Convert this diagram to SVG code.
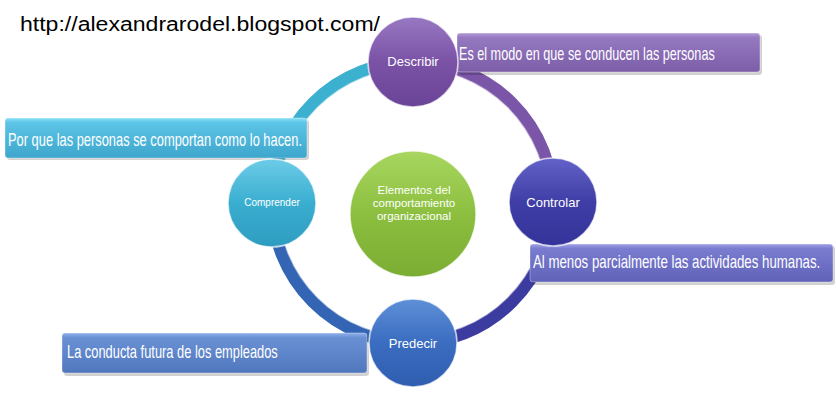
<svg xmlns="http://www.w3.org/2000/svg" width="836" height="416" viewBox="0 0 836 416">
<defs>
<linearGradient id="gPur" x1="0" y1="0" x2="0" y2="1"><stop offset="0" stop-color="#9878c2"/><stop offset="0.5" stop-color="#7a52a6"/><stop offset="1" stop-color="#6a4496"/></linearGradient>
<linearGradient id="gInd" x1="0" y1="0" x2="0" y2="1"><stop offset="0" stop-color="#6262c8"/><stop offset="0.5" stop-color="#3f3ea6"/><stop offset="1" stop-color="#34339a"/></linearGradient>
<linearGradient id="gBlu" x1="0" y1="0" x2="0" y2="1"><stop offset="0" stop-color="#5e90d8"/><stop offset="0.5" stop-color="#3a6cc0"/><stop offset="1" stop-color="#2f5eb0"/></linearGradient>
<linearGradient id="gCya" x1="0" y1="0" x2="0" y2="1"><stop offset="0" stop-color="#6ccce8"/><stop offset="0.5" stop-color="#3aaed0"/><stop offset="1" stop-color="#2e9cc0"/></linearGradient>
<linearGradient id="gGrn" x1="0" y1="0" x2="0" y2="1"><stop offset="0" stop-color="#a8d660"/><stop offset="0.5" stop-color="#8cbf3f"/><stop offset="1" stop-color="#7aad32"/></linearGradient>
<linearGradient id="bPur" x1="0" y1="0" x2="0" y2="1"><stop offset="0" stop-color="#b59ad8"/><stop offset="0.12" stop-color="#9478c0"/><stop offset="1" stop-color="#7c5ea8"/></linearGradient>
<linearGradient id="bCya" x1="0" y1="0" x2="0" y2="1"><stop offset="0" stop-color="#8ae0f6"/><stop offset="0.12" stop-color="#5cc4e6"/><stop offset="1" stop-color="#3ea6cc"/></linearGradient>
<linearGradient id="bInd" x1="0" y1="0" x2="0" y2="1"><stop offset="0" stop-color="#a0a2e6"/><stop offset="0.12" stop-color="#7a7cd0"/><stop offset="1" stop-color="#6062b8"/></linearGradient>
<linearGradient id="bBlu" x1="0" y1="0" x2="0" y2="1"><stop offset="0" stop-color="#8eb0ea"/><stop offset="0.12" stop-color="#6a90d4"/><stop offset="1" stop-color="#5077bd"/></linearGradient>
</defs>
<style>
.ring{fill:none;stroke-width:12.5}
.hl{fill:none;stroke:#ffffff;stroke-opacity:0.55;stroke-width:1.2}
.node{stroke:#ffffff;stroke-opacity:0.7;stroke-width:1.5}
.box{stroke:#ffffff;stroke-opacity:0.35;stroke-width:1}
.shadow{fill:#000000;fill-opacity:0.18}
.lbl{font-family:"Liberation Sans",Arial,sans-serif;fill:#ffffff;text-anchor:middle}
.ct{font-family:"Liberation Sans Narrow","Liberation Sans",Arial,sans-serif;fill:#ffffff;font-size:18px}
.url{font-family:"Liberation Sans",Arial,sans-serif;fill:#000000;font-size:20px}
</style>
<rect width="836" height="416" fill="#ffffff"/>
<text class="url" x="20" y="31" textLength="360" lengthAdjust="spacingAndGlyphs">http://alexandrarodel.blogspot.com/</text>

<g id="connectors">
<path class="ring" stroke="#3bb0cf" d="M272,202.5 A140.5,140.5 0 0 1 412.5,62"/>
<path class="ring" stroke="#7a55a8" d="M412.5,62 A140.5,140.5 0 0 1 553,202.5"/>
<path class="ring" stroke="#3c3ca0" d="M553,202.5 A140.5,140.5 0 0 1 412.5,343"/>
<path class="ring" stroke="#3465b5" d="M412.5,343 A140.5,140.5 0 0 1 272,202.5"/>
<path class="hl" d="M278,202.5 A134.5,134.5 0 0 1 412.5,68 A134.5,134.5 0 0 1 547,202.5 A134.5,134.5 0 0 1 412.5,337 A134.5,134.5 0 0 1 278,202.5"/>
</g>

<g id="callout-describir">
<rect class="shadow" x="459" y="35" width="303" height="40" rx="3"/>
<rect class="box" x="457" y="33" width="303" height="39" rx="3" fill="url(#bPur)"/>
<text class="ct" transform="translate(459,60) scale(0.75,1)" textLength="341" lengthAdjust="spacingAndGlyphs">Es el modo en que se conducen las personas</text>
</g>
<g id="callout-comprender">
<rect class="shadow" x="7" y="120" width="302" height="40" rx="3"/>
<rect class="box" x="5" y="118" width="302" height="40" rx="3" fill="url(#bCya)"/>
<text class="ct" transform="translate(8,146) scale(0.75,1)" textLength="392" lengthAdjust="spacingAndGlyphs">Por que las personas se comportan como lo hacen.</text>
</g>
<g id="callout-controlar">
<rect class="shadow" x="532" y="246" width="303" height="39" rx="3"/>
<rect class="box" x="530" y="244" width="303" height="38" rx="3" fill="url(#bInd)"/>
<text class="ct" transform="translate(533,268) scale(0.75,1)" textLength="383" lengthAdjust="spacingAndGlyphs">Al menos parcialmente las actividades humanas.</text>
</g>
<g id="callout-predecir">
<rect class="shadow" x="64" y="335" width="305" height="41" rx="3"/>
<rect class="box" x="62" y="333" width="305" height="40" rx="3" fill="url(#bBlu)"/>
<text class="ct" transform="translate(67,358) scale(0.75,1)" textLength="281" lengthAdjust="spacingAndGlyphs">La conducta futura de los empleados</text>
</g>

<g id="node-center">
<circle class="node" cx="413" cy="214" r="63" fill="url(#gGrn)"/>
<text class="lbl" x="414" y="194" font-size="11.5">Elementos del</text>
<text class="lbl" x="414" y="207" font-size="11.5">comportamiento</text>
<text class="lbl" x="414" y="220" font-size="11.5">organizacional</text>
</g>
<g id="node-describir">
<circle class="node" cx="413" cy="62" r="45" fill="url(#gPur)"/>
<text class="lbl" x="413" y="66" font-size="13">Describir</text>
</g>
<g id="node-controlar">
<circle class="node" cx="553" cy="202" r="44" fill="url(#gInd)"/>
<text class="lbl" x="553" y="207" font-size="13">Controlar</text>
</g>
<g id="node-predecir">
<circle class="node" cx="413" cy="343" r="44" fill="url(#gBlu)"/>
<text class="lbl" x="413" y="348" font-size="13">Predecir</text>
</g>
<g id="node-comprender">
<circle class="node" cx="272" cy="203" r="44" fill="url(#gCya)"/>
<text class="lbl" x="272" y="206" font-size="10">Comprender</text>
</g>
</svg>
